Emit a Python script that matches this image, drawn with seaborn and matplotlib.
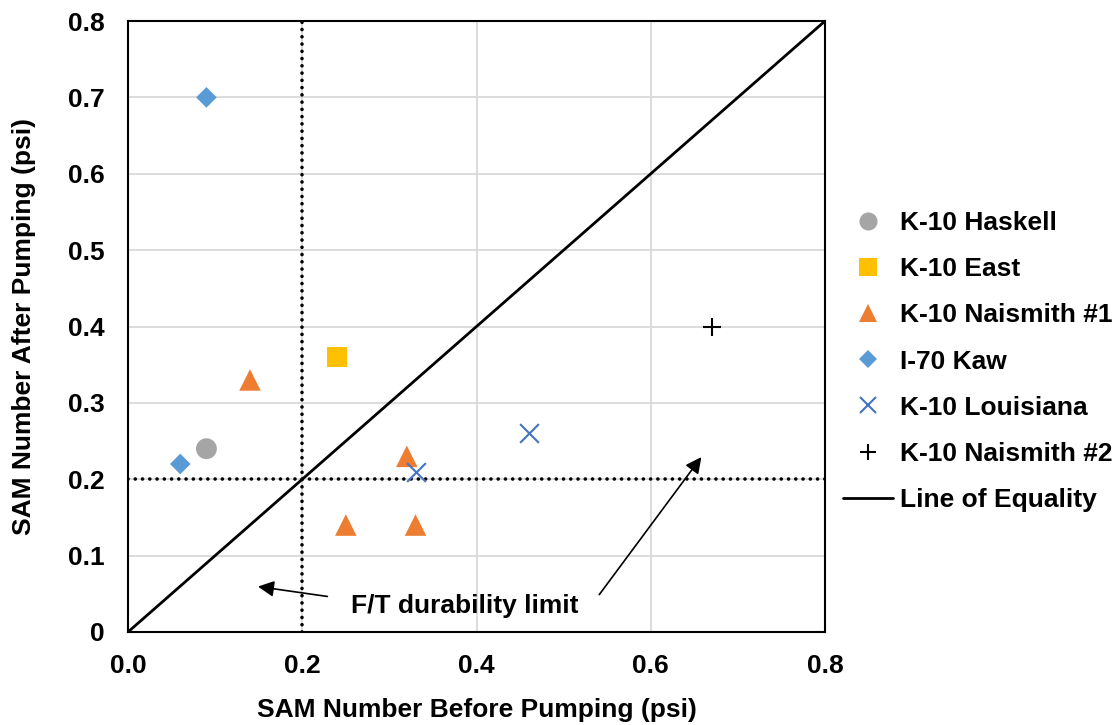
import matplotlib
matplotlib.use("Agg")
import matplotlib.pyplot as plt
from matplotlib.lines import Line2D
import pandas as pd
import seaborn as sns

# Site names and measured SAM numbers (psi)
sites = ["K-10 Haskell", "K-10 East", "K-10 Naismith #1", "I-70 Kaw",
         "K-10 Louisiana", "K-10 Naismith #2"]
haskell_before = [0.09]
haskell_after = [0.24]
east_before = [0.24]
east_after = [0.36]
naismith1_before = [0.14, 0.32, 0.25, 0.33]
naismith1_after = [0.33, 0.23, 0.14, 0.14]
kaw_before = [0.09, 0.06]
kaw_after = [0.70, 0.22]
louisiana_before = [0.33, 0.46]
louisiana_after = [0.21, 0.26]
naismith2_before = [0.67]
naismith2_after = [0.40]
equality = [0.0, 0.8]
limit = 0.2
x_ticks = [0.0, 0.2, 0.4, 0.6, 0.8]
y_ticks = [0, 0.1, 0.2, 0.3, 0.4, 0.5, 0.6, 0.7, 0.8]
y_tick_labels = ["0", "0.1", "0.2", "0.3", "0.4", "0.5", "0.6", "0.7", "0.8"]

before = [haskell_before, east_before, naismith1_before, kaw_before,
          louisiana_before, naismith2_before]
after = [haskell_after, east_after, naismith1_after, kaw_after,
         louisiana_after, naismith2_after]
df = pd.DataFrame({
    "site": [s for s, b in zip(sites, before) for _ in b],
    "before": [v for b in before for v in b],
    "after": [v for a in after for v in a],
})

colors = {"K-10 Haskell": "#A5A5A5", "K-10 East": "#FFC000",
          "K-10 Naismith #1": "#ED7D31", "I-70 Kaw": "#5B9BD5",
          "K-10 Louisiana": "#4472C4", "K-10 Naismith #2": "#000000"}
markers = {"K-10 Haskell": "o", "K-10 East": "s", "K-10 Naismith #1": "^",
           "I-70 Kaw": "D", "K-10 Louisiana": "x", "K-10 Naismith #2": "+"}
sizes = {"o": 15, "s": 14.5, "^": 15.5, "D": 10.5, "x": 13.5, "+": 13.5}
lg_sizes = {"o": 13, "s": 13, "^": 13, "D": 9.5, "x": 12, "+": 12}

FS = 19

sns.set_theme(style="white")
plt.rcParams["font.family"] = ["Liberation Sans", "DejaVu Sans"]
plt.rcParams["font.weight"] = "bold"
plt.rcParams["text.color"] = "black"
plt.rcParams["xtick.color"] = "black"
plt.rcParams["ytick.color"] = "black"
plt.rcParams["axes.labelcolor"] = "black"

fig = plt.figure(figsize=(11.2, 7.25), dpi=100)
ax = fig.add_axes([0.1143, 0.1283, 0.6223, 0.8427])

# Grid
for v in x_ticks[1:-1]:
    ax.axvline(v, color="#D9D9D9", lw=1.3, zorder=0)
for v in y_ticks[1:-1]:
    ax.axhline(v, color="#D9D9D9", lw=1.3, zorder=0)

# Line of equality and F/T durability limits
sns.lineplot(x=equality, y=equality, color="black", lw=2, ax=ax, zorder=2)
dot = (0, (0.01, 2.0))
ax.axvline(limit, color="black", lw=2.6, ls=dot,
           dash_capstyle="round", zorder=2)
ax.axhline(limit, color="black", lw=2.6, ls=dot,
           dash_capstyle="round", zorder=2)

for s in sites:
    sub = df[df["site"] == s]
    m = markers[s]
    lined = m in ("x", "+")
    sns.scatterplot(data=sub, x="before", y="after", marker=m,
                    s=sizes[m] ** 2, color=colors[s],
                    edgecolor=colors[s] if lined else "none",
                    linewidth=1.5 if lined else 0, ax=ax, zorder=3,
                    legend=False)

ax.set_xlim(0, 0.8)
ax.set_ylim(0, 0.8)
ax.set_xticks(x_ticks)
ax.set_xticklabels([f"{v:.1f}" for v in x_ticks])
ax.set_yticks(y_ticks)
ax.set_yticklabels(y_tick_labels)
ax.tick_params(labelsize=FS, length=0)
ax.tick_params(axis="x", pad=15.5)
ax.tick_params(axis="y", pad=17)
for lbl in ax.get_xticklabels() + ax.get_yticklabels():
    lbl.set_fontweight("bold")
for sp in ax.spines.values():
    sp.set_color("black")
    sp.set_linewidth(1.5)

ax.set_xlabel("SAM Number Before Pumping (psi)", fontsize=FS,
              fontweight="bold", labelpad=15)
ax.set_ylabel("SAM Number After Pumping (psi)", fontsize=FS,
              fontweight="bold", labelpad=22.5)

# Annotation
ax.text(0.387, 0.034, "F/T durability limit", fontsize=FS, fontweight="bold",
        ha="center", va="center")
ax.annotate("", xy=(0.146, 0.060), xytext=(0.232, 0.046),
            arrowprops=dict(arrowstyle="-|>", color="black", lw=1.2,
                            mutation_scale=24))
ax.annotate("", xy=(0.660, 0.232), xytext=(0.539, 0.046),
            arrowprops=dict(arrowstyle="-|>", color="black", lw=1.2,
                            mutation_scale=24))

handles = []
for s in sites:
    m = markers[s]
    lined = m in ("x", "+")
    handles.append(Line2D([], [], ls="none", marker=m, ms=lg_sizes[m],
                          color=colors[s],
                          markeredgecolor=colors[s],
                          markeredgewidth=1.5 if lined else 0,
                          label=s))
handles.append(Line2D([], [], color="black", lw=2, label="Line of Equality"))
leg = ax.legend(handles=handles, loc="center left",
                bbox_to_anchor=(1.0258, 0.4427), frameon=False,
                prop={"weight": "bold", "size": FS}, handlelength=1.9,
                labelspacing=0.84, handletextpad=0.25, borderaxespad=0,
                borderpad=0)
for t in leg.get_texts():
    t.set_color("black")

fig.savefig("out.png", dpi=100)
